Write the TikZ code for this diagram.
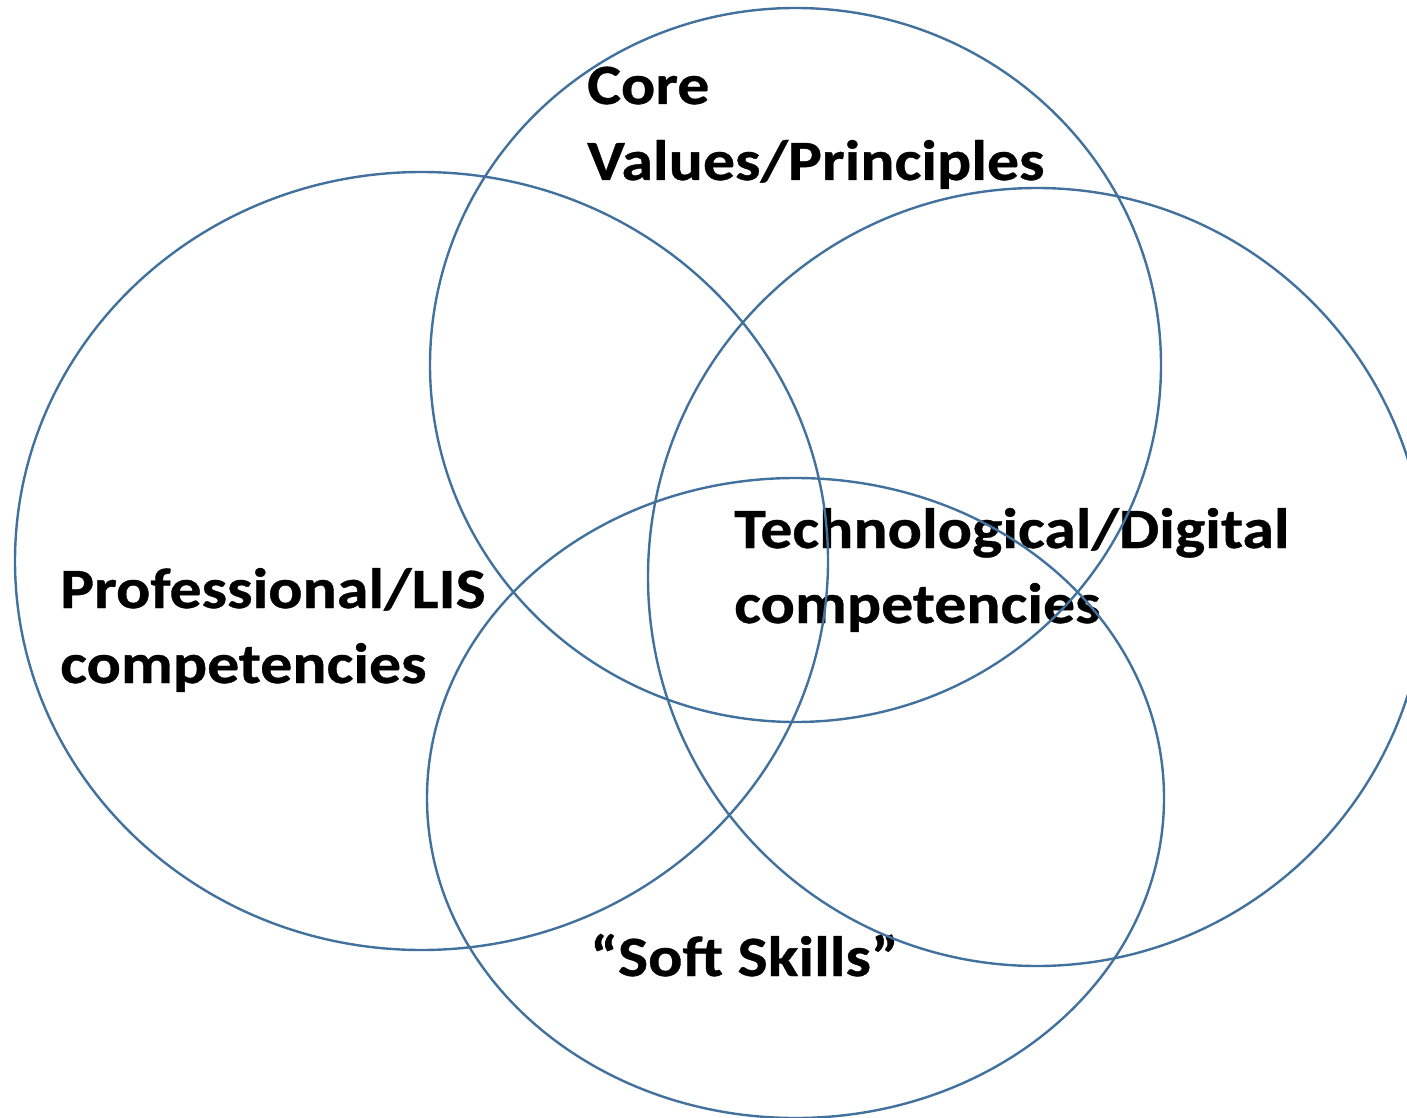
\documentclass[tikz,border=0pt]{standalone}
\usepackage{fontspec}
\setmainfont{Carlito}[FakeStretch=1.12,BoldFeatures={FakeBold=0.6}]
\definecolor{ringblue}{HTML}{41719C}
\begin{document}
\begin{tikzpicture}[x=1pt,y=-1pt,
  ring/.style={draw=ringblue,line width=2.4pt},
  lbl/.style={anchor=base west,inner sep=0pt,align=left,
    font=\fontsize{57}{76}\selectfont\bfseries}]
\useasboundingbox (0,0) rectangle (1407,1118);
\clip (0,0) rectangle (1407,1118);
% labels sit underneath the outlines
\node[lbl] (core)  at (587,104) {Core};
\node[lbl] (corev) at (587,180) {Values/Principles};
\node[lbl] (prof)  at (60,608) {Professional/LIS};
\node[lbl] (profc) at (60,683) {competencies};
\node[lbl] (tech)  at (734,548) {Technological/Digital};
\node[lbl] (techc) at (734,623) {competencies};
\node[lbl] (soft)  at (590,976) {``Soft Skills''};
% the four overlapping sets
\draw[ring] (795.5,365) ellipse [x radius=365.5, y radius=357];
\draw[ring] (421.5,561) ellipse [x radius=406.5, y radius=389];
\draw[ring] (1037,577) ellipse [x radius=389, y radius=389];
\draw[ring] (795.5,798) ellipse [x radius=368.5, y radius=320];
\end{tikzpicture}
\end{document}
